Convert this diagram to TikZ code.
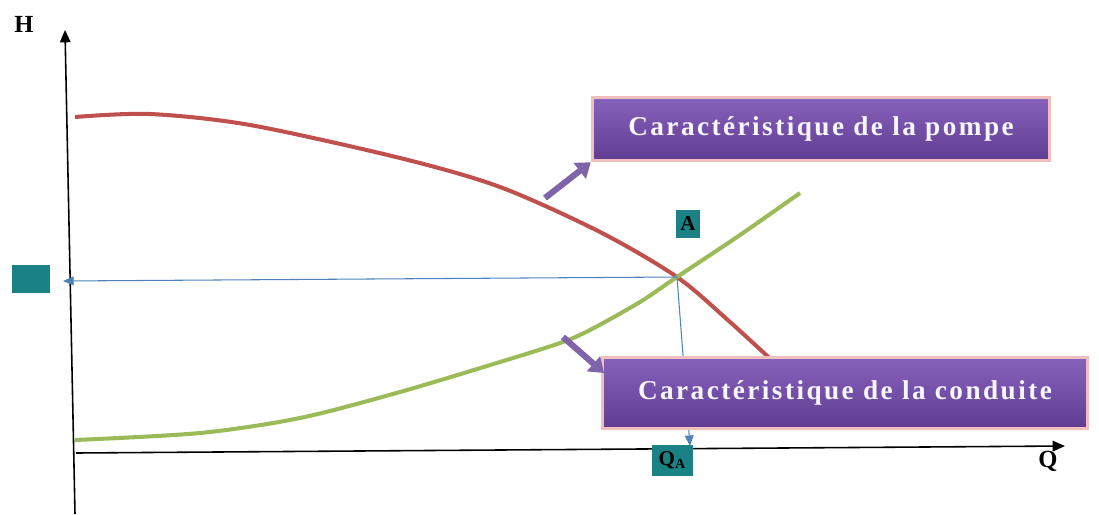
\documentclass[tikz,border=0pt]{standalone}
\usepackage{fontspec}
\setmainfont{Liberation Serif}
\usetikzlibrary{arrows.meta}
\definecolor{rouge}{RGB}{192,80,77}
\definecolor{vert}{RGB}{155,187,89}
\definecolor{bleu}{RGB}{79,129,189}
\definecolor{violetF}{RGB}{128,100,170}
\definecolor{violetH}{RGB}{135,98,188}
\definecolor{violetB}{RGB}{96,60,146}
\definecolor{rose}{RGB}{240,190,188}
\definecolor{canard}{RGB}{26,130,132}
\tikzset{
    BX/.style ={rectangle, draw=rose, line width=2pt, top color=violetH, bottom color=violetB, text=white!94!violetF, font=\fontsize{15.5}{18}\selectfont\bfseries\addfontfeature{LetterSpace=9}},
    TQ/.style ={rectangle, fill=canard, inner sep=0pt, font=\fontsize{12}{12}\selectfont\bfseries},
    FL/.style ={violetF, line width=3.5pt, -{Triangle[width=11pt,length=8pt]}},
    BL/.style ={bleu, line width=0.6pt, -{Triangle[width=5pt,length=6pt]}},
    AX/.style ={black, line width=0.9pt, -{Triangle[width=6pt,length=7pt]}},
    LB/.style ={font=\fontsize{14}{14}\selectfont\bfseries}}

\begin{document}
\begin{tikzpicture}[x=0.02cm,y=-0.02cm]
        \useasboundingbox (0,0) rectangle (1099,514);
        % axes
        \coordinate (O1) at (75,514);
        \coordinate (Ht) at (65,30);
        \coordinate (O2) at (76,453);
        \coordinate (Qt) at (1065,446);
        \draw[AX] (O1) -- (Ht);
        \draw[AX] (O2) -- (Qt);
        \node[LB] (H) at (24,24){H};
        \node[LB] (Q) at (1048,461){Q};
        % courbes
        \draw[rouge, line width=2.3pt] plot[smooth] coordinates {(75,117) (150,114) (250,125) (400,158) (500,187) (600,232) (677,277) (730,322) (778,366)};
        \draw[vert, line width=2.3pt] plot[smooth] coordinates {(75,440) (200,433) (300,418) (400,392) (500,362) (560,343) (590,330) (640,302) (677,277) (740,235) (800,193)};
        \coordinate (A) at (677,277);
        % projections
        \node[TQ, minimum width=0.76cm, minimum height=0.56cm] (HA) at (31,279){};
        \node[TQ, minimum width=0.48cm, minimum height=0.56cm] (NA) at (688,224){A};
        \node[TQ, minimum width=0.82cm, minimum height=0.62cm] (QA) at (672,460){Q\raisebox{-0.4ex}{\fontsize{8}{8}\selectfont A}};
        \coordinate (Hp) at (63,281);
        \coordinate (Qp) at (690,446);
        \draw[BL] (A) -- (Hp);
        \draw[BL] (A) -- (Qp);
        % boites
        \node[BX, minimum width=9.14cm, minimum height=1.26cm] (pompe) at (821,129){Caractéristique de la pompe};
        \node[BX, minimum width=9.7cm, minimum height=1.42cm] (conduite) at (845,393){Caractéristique de la conduite};
        \coordinate (fp) at (545,198);
        \coordinate (fc) at (563,337);
        \coordinate (tc) at (604,373);
        \draw[FL] (fp) -- (pompe.south west);
        \draw[FL] (fc) -- (tc);
    \end{tikzpicture}
\end{document}
